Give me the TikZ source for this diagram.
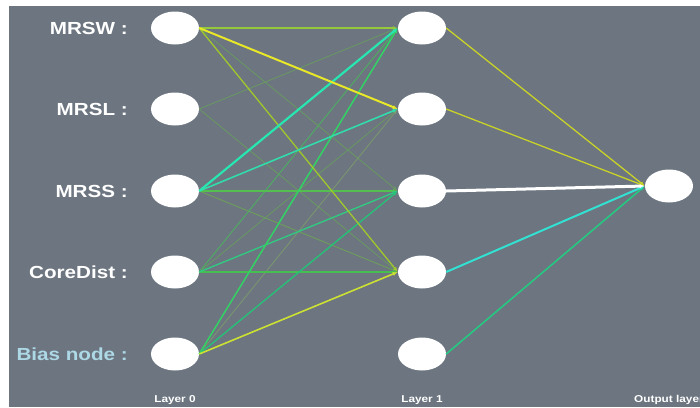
\documentclass[tikz,border=0pt]{standalone}
\usepackage{fontspec}
\usetikzlibrary{shapes.geometric,arrows.meta}
\newfontfamily\lblfont{Liberation Sans}[FakeStretch=1.18]
\definecolor{panel}{RGB}{108,117,128}
\definecolor{wyg}{RGB}{150,200,60}
\definecolor{wyel}{RGB}{232,232,40}
\definecolor{wdim}{RGB}{105,150,100}
\definecolor{wyg2}{RGB}{160,200,45}
\definecolor{wcyan}{RGB}{40,230,175}
\definecolor{wcyan2}{RGB}{50,220,170}
\definecolor{wgreen}{RGB}{85,190,80}
\definecolor{wdim2}{RGB}{110,158,92}
\definecolor{wdimg}{RGB}{80,170,100}
\definecolor{wteal}{RGB}{50,200,130}
\definecolor{wgreen2}{RGB}{70,190,80}
\definecolor{wbright}{RGB}{50,210,100}
\definecolor{wgrey}{RGB}{122,150,112}
\definecolor{wteal2}{RGB}{40,192,120}
\definecolor{wlime}{RGB}{205,225,50}
\definecolor{wout}{RGB}{200,210,40}
\definecolor{wocyan}{RGB}{50,225,210}
\definecolor{woteal}{RGB}{38,200,130}
\definecolor{biasblue}{RGB}{173,216,230}
\tikzset{
  neuron/.style={ellipse, fill=white, minimum width=48pt, minimum height=33pt, inner sep=0pt},
  inlabel/.style={anchor=east, text=white, font=\lblfont\fontsize{17.5}{20}\selectfont\bfseries, inner sep=0pt},
  laylabel/.style={text=white, font=\lblfont\fontsize{10}{12}\selectfont\bfseries, inner sep=0pt},
  wt/.style 2 args={draw=#1, line width=#2, -{Latex[length=5pt,width=4pt]}},
}
\begin{document}
\begin{tikzpicture}[x=1pt,y=-1pt]
  % page and panel
  \fill[white] (0,0) rectangle (700,407);
  \useasboundingbox (0,0) rectangle (700,407);
  \clip (0,0) rectangle (700,407);
  \fill[panel] (9,6) rectangle (700,407);

  % layer 0
  \node[neuron] (a1) at (175,28) {};
  \node[neuron] (a2) at (175,109) {};
  \node[neuron] (a3) at (175,191) {};
  \node[neuron] (a4) at (175,272) {};
  \node[neuron] (a5) at (175,354) {};
  % layer 1
  \node[neuron] (b1) at (422,28) {};
  \node[neuron] (b2) at (422,109) {};
  \node[neuron] (b3) at (422,191) {};
  \node[neuron] (b4) at (422,272) {};
  \node[neuron] (b5) at (422,354) {};
  % output
  \node[neuron] (o) at (669,186) {};

  % input labels
  \node[inlabel] (l1) at (128,28) {MRSW :};
  \node[inlabel] (l2) at (128,109) {MRSL :};
  \node[inlabel] (l3) at (128,191) {MRSS :};
  \node[inlabel] (l4) at (128,272) {CoreDist :};
  \node[inlabel, text=biasblue] (l5) at (128,354) {Bias node :};

  % layer captions
  \node[laylabel] (c0) at (175,400) {Layer 0};
  \node[laylabel] (c1) at (422,400) {Layer 1};
  \node[laylabel, anchor=west] (c2) at (634,400) {Output layer};

  % weights, layer 0 to layer 1
  \draw[wt={wdim}{0.9pt}] (a1.east) -- (b3.west);
  \draw[wt={wdim}{0.9pt}] (a2.east) -- (b1.west);
  \draw[wt={wdim}{0.9pt}] (a2.east) -- (b4.west);
  \draw[wt={wdim2}{0.9pt}] (a3.east) -- (b4.west);
  \draw[wt={wdim}{0.9pt}] (a4.east) -- (b2.west);
  \draw[wt={wgrey}{0.9pt}] (a5.east) -- (b2.west);
  \draw[wt={wdimg}{1pt}] (a4.east) -- (b1.west);
  \draw[wt={wgreen}{1.2pt}] (a3.east) -- (b3.west);
  \draw[wt={wgreen2}{1.1pt}] (a4.east) -- (b4.west);
  \draw[wt={wteal}{1.4pt}] (a4.east) -- (b3.west);
  \draw[wt={wteal2}{1.4pt}] (a5.east) -- (b3.west);
  \draw[wt={wbright}{1.5pt}] (a5.east) -- (b1.west);
  \draw[wt={wyg}{1.3pt}] (a1.east) -- (b1.west);
  \draw[wt={wyg2}{1.3pt}] (a1.east) -- (b4.west);
  \draw[wt={wcyan2}{1.6pt}] (a3.east) -- (b2.west);
  \draw[wt={wcyan}{2.2pt}] (a3.east) -- (b1.west);
  \draw[wt={wlime}{1.6pt}] (a5.east) -- (b4.west);
  \draw[wt={wyel}{2pt}] (a1.east) -- (b2.west);

  % weights, layer 1 to output
  \draw[wt={wout}{1.3pt}] (b1.east) -- (o.west);
  \draw[wt={wout}{1.3pt}] (b2.east) -- (o.west);
  \draw[wt={woteal}{1.6pt}] (b5.east) -- (o.west);
  \draw[wt={wocyan}{2pt}] (b4.east) -- (o.west);
  \draw[wt={white}{3pt}] (b3.east) -- (o.west);
\end{tikzpicture}
\end{document}
